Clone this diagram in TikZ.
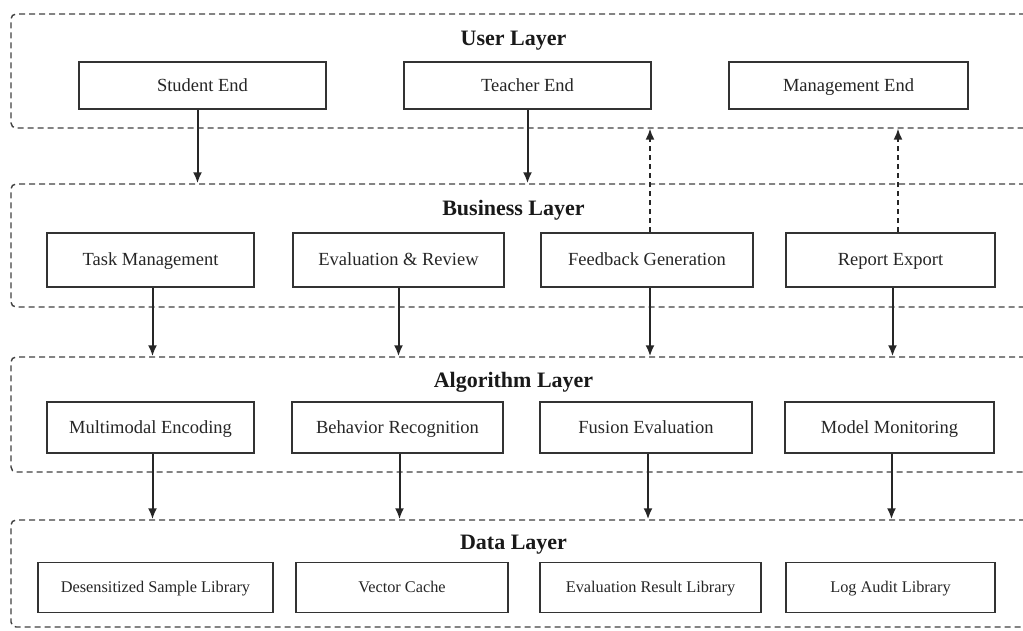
\documentclass[tikz,border=0pt]{standalone}
\usepackage{fontspec}
\setmainfont{Liberation Serif}
\usetikzlibrary{arrows.meta,positioning}
\tikzset{
    layerbox/.style={draw=black!75, line width=1.4pt, dash pattern=on 6pt off 4pt,
        rounded corners=5pt, minimum width=1029pt, inner sep=0pt},
    layertitle/.style={inner sep=0pt, text height=14.6pt, text depth=0pt,
        font=\fontsize{22}{24}\selectfont\bfseries, text=black!90},
    entry/.style={draw=black!80, line width=1.7pt, fill=white, minimum height=50pt,
        inner sep=0pt, text height=12.2pt, text depth=0.6pt,
        text=black!85, font=\fontsize{18.5}{21}\selectfont},
    dataentry/.style={entry, text height=10.8pt, text depth=0.6pt, font=\fontsize{16.3}{19}\selectfont},
    flow/.style={->, draw=black!85, line width=2pt},
    backflow/.style={flow, line width=1.6pt, dash pattern=on 5pt off 4pt}
}

\begin{document}
\begin{tikzpicture}[x=1pt, y=-1pt, >={Latex[length=11pt,width=9pt]}]
	\useasboundingbox (0,0) rectangle (1023,631);
	\clip (0,0) rectangle (1023,631);

	% layers
	\node[layerbox, minimum height=114pt] (ul) at (525.5,71) {};
	\node[layerbox, minimum height=123pt] (bl) at (525.5,245.5) {};
	\node[layerbox, minimum height=115pt] (al) at (525.5,414.5) {};
	\node[layerbox, minimum height=107pt] (dl) at (525.5,573.5) {};

	\node[layertitle] (ut) at (513.5,38) {User Layer};
	\node[layertitle] (bt) at (513.5,208.5) {Business Layer};
	\node[layertitle] (at) at (513.5,380) {Algorithm Layer};
	\node[layertitle] (dt) at (513.5,542.5) {Data Layer};

	% user layer
	\node[entry, minimum width=247pt, minimum height=47pt] (se) at (202.5,85.5) {Student End};
	\node[entry, minimum width=247pt, minimum height=47pt] (te) at (527.5,85.5) {Teacher End};
	\node[entry, minimum width=239pt, minimum height=47pt] (me) at (848.5,85.5) {Management End};

	% business layer
	\node[entry, minimum width=207pt, minimum height=54pt] (tm) at (150.5,260) {Task Management};
	\node[entry, minimum width=211pt, minimum height=54pt] (er) at (398.5,260) {Evaluation \& Review};
	\node[entry, minimum width=212pt, minimum height=54pt] (fg) at (647,260) {Feedback Generation};
	\node[entry, minimum width=209pt, minimum height=54pt] (re) at (890.5,260) {Report Export};

	% algorithm layer
	\node[entry, minimum width=207pt, minimum height=51pt] (mc) at (150.5,427.5) {Multimodal Encoding};
	\node[entry, minimum width=211pt, minimum height=51pt] (br) at (397.5,427.5) {Behavior Recognition};
	\node[entry, minimum width=212pt, minimum height=51pt] (fe) at (646,427.5) {Fusion Evaluation};
	\node[entry, minimum width=209pt, minimum height=51pt] (mm) at (889.5,427.5) {Model Monitoring};

	% data layer
	\node[dataentry, minimum width=235pt] (ds) at (155.5,587.5) {Desensitized Sample Library};
	\node[dataentry, minimum width=212pt] (vc) at (402,587.5) {Vector Cache};
	\node[dataentry, minimum width=221pt] (rl) at (650.5,587.5) {Evaluation Result Library};
	\node[dataentry, minimum width=209pt] (la) at (890.5,587.5) {Log Audit Library};

	% requests going down
	\draw[flow] ([xshift=-5pt]se.south) -- ([xshift=-5pt]se.south |- bl.north);
	\draw[flow] (te.south) -- (te.south |- bl.north);
	\draw[flow] ([xshift=2pt]tm.south) -- ([xshift=2pt]tm.south |- al.north);
	\draw[flow] (er.south) -- (er.south |- al.north);
	\draw[flow] ([xshift=3pt]fg.south) -- ([xshift=3pt]fg.south |- al.north);
	\draw[flow] ([xshift=2pt]re.south) -- ([xshift=2pt]re.south |- al.north);
	\foreach \b in {mc, br, fe, mm}
		\draw[flow] ([xshift=2pt]\b.south) -- ([xshift=2pt]\b.south |- dl.north);

	% results going back up
	\draw[backflow] ([xshift=3pt]fg.north) -- ([xshift=3pt]fg.north |- ul.south);
	\draw[backflow] ([xshift=7.5pt]re.north) -- ([xshift=7.5pt]re.north |- ul.south);
\end{tikzpicture}
\end{document}
